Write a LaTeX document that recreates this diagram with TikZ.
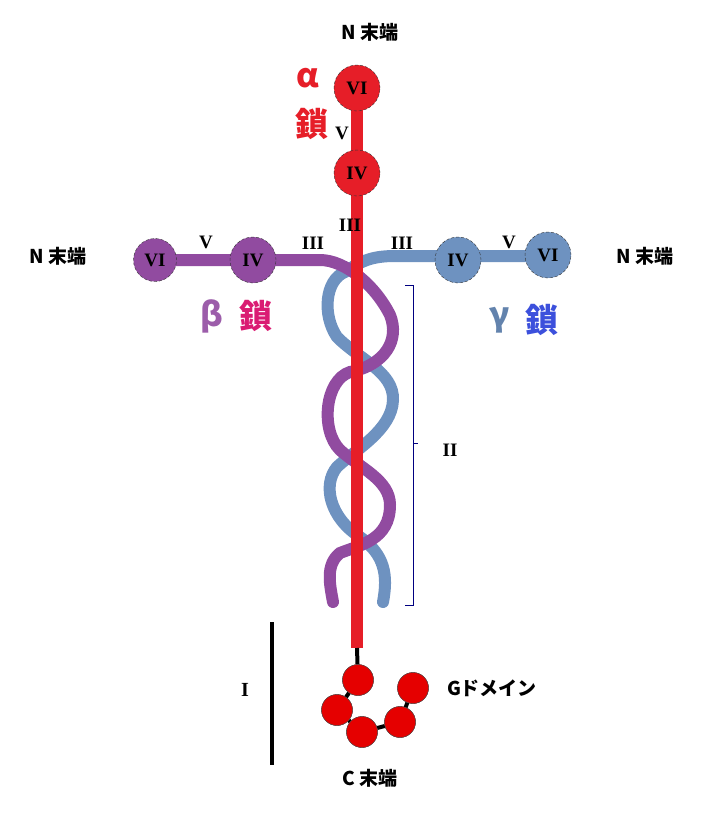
\documentclass[tikz,border=0pt]{standalone}
\usepackage{fontspec}
\setmainfont{Liberation Sans}
\newfontfamily\jp{Noto Sans CJK JP}
\newfontfamily\rom{Liberation Serif}
\begin{document}
\begin{tikzpicture}[x=1pt,y=-1pt,
  dom/.style={circle,minimum size=46pt,inner sep=0pt,draw=black!80,densely dashed,font=\rom\bfseries\fontsize{19}{19}\selectfont},
  lab/.style={font=\rom\bfseries\fontsize{19}{19}\selectfont},
  jlab/.style={font=\jp\bfseries\fontsize{19}{21}\selectfont},
  big/.style={font=\jp\bfseries\fontsize{33}{35}\selectfont},
  gball/.style={circle,fill=red!90!black,draw=black!70,minimum size=31pt,inner sep=0pt}]
\useasboundingbox (0,0) rectangle (723,836);
\definecolor{ared}{RGB}{230,30,40}
\definecolor{bpur}{RGB}{145,75,160}
\definecolor{gblu}{RGB}{110,146,192}
% gamma chain
\draw[gblu,line width=12pt,line cap=round] (383,602) .. controls (388,575) and (385,555) .. (360,537)
 .. controls (330,518) and (322,485) .. (337,467) .. controls (355,450) and (392,430) .. (393,400)
 .. controls (394,372) and (360,360) .. (337,337) .. controls (322,315) and (325,280) .. (345,272)
 .. controls (360,262) and (370,256) .. (395,256) -- (560,256);
% beta chain
\draw[bpur,line width=12pt,line cap=round] (155,260) -- (320,260) .. controls (345,260) and (375,285) .. (390,315)
 .. controls (400,340) and (385,365) .. (350,372) .. controls (325,380) and (320,430) .. (340,450)
 .. controls (360,468) and (390,480) .. (390,505) .. controls (390,540) and (360,545) .. (340,553)
 .. controls (325,565) and (330,585) .. (333,602);
% alpha chain
\draw[ared,line width=12pt] (357,85) -- (357,648);
\node[dom,fill=ared] (a6) at (357,88) {VI};
\node[dom,fill=ared] (a4) at (357,173) {IV};
\node[dom,fill=bpur,minimum size=43pt] (b6) at (155,260) {VI};
\node[dom,fill=bpur] (b4) at (253,260) {IV};
\node[dom,fill=gblu] (g4) at (458,260) {IV};
\node[dom,fill=gblu] (g6) at (548,255) {VI};
% labels
\node[jlab] (nt) at (370,32) {N 末端};
\node[jlab] (nl) at (58,256) {N 末端};
\node[jlab] (nr) at (645,256) {N 末端};
\node[big,text=ared] (al) at (308,78) {α};
\node[big,text=ared] (ak) at (312,124) {鎖};
\node[lab] (v1) at (342,133) {V};
\node[lab] (t1) at (350,225) {III};
\node[lab] (v2) at (206,242) {V};
\node[lab] (t2) at (313,243) {III};
\node[lab] (t3) at (402,243) {III};
\node[lab] (v3) at (509,242) {V};
\node[big,text=bpur!90] (bl) at (212,316) {β};
\node[big,text=magenta!60!purple] (bk) at (256,316) {鎖};
\node[big,text=gblu!90!black] (gl) at (500,320) {γ};
\node[big,text=blue!45!gblu] (gk) at (542,320) {鎖};
% bracket II
\draw[blue!50!black,line width=1pt] (405,285) -- (413,285) -- (413,605) -- (405,605);
\draw[blue!50!black,line width=1pt] (413,443) -- (418,443);
\node[lab] (ii) at (450,450) {II};
% G domain
\node[gball] (g1) at (358,680) {};
\node[gball] (g2) at (337,710) {};
\node[gball] (g3) at (362,732) {};
\node[gball] (g4b) at (400,722) {};
\node[gball] (g5) at (413,688) {};
\coordinate (aend) at (357,648);
\draw[line width=4pt] (aend) -- (g1);
\draw[line width=4pt] (g1) -- (g2);
\draw[line width=4pt] (g2) -- (g3);
\draw[line width=4pt] (g3) -- (g4b);
\draw[line width=4pt] (g4b) -- (g5);
\foreach \n in {g1,g2,g3,g4b,g5} \node[gball] at (\n) {};
\draw[line width=3.5pt] (272,622) -- (272,765);
\node[lab,font=\rom\bfseries\fontsize{20}{20}\selectfont] (i1) at (245,690) {I};
\node[jlab] (gd) at (492,688) {Gドメイン};
\node[jlab] (ct) at (370,778) {C 末端};
\end{tikzpicture}
\end{document}
